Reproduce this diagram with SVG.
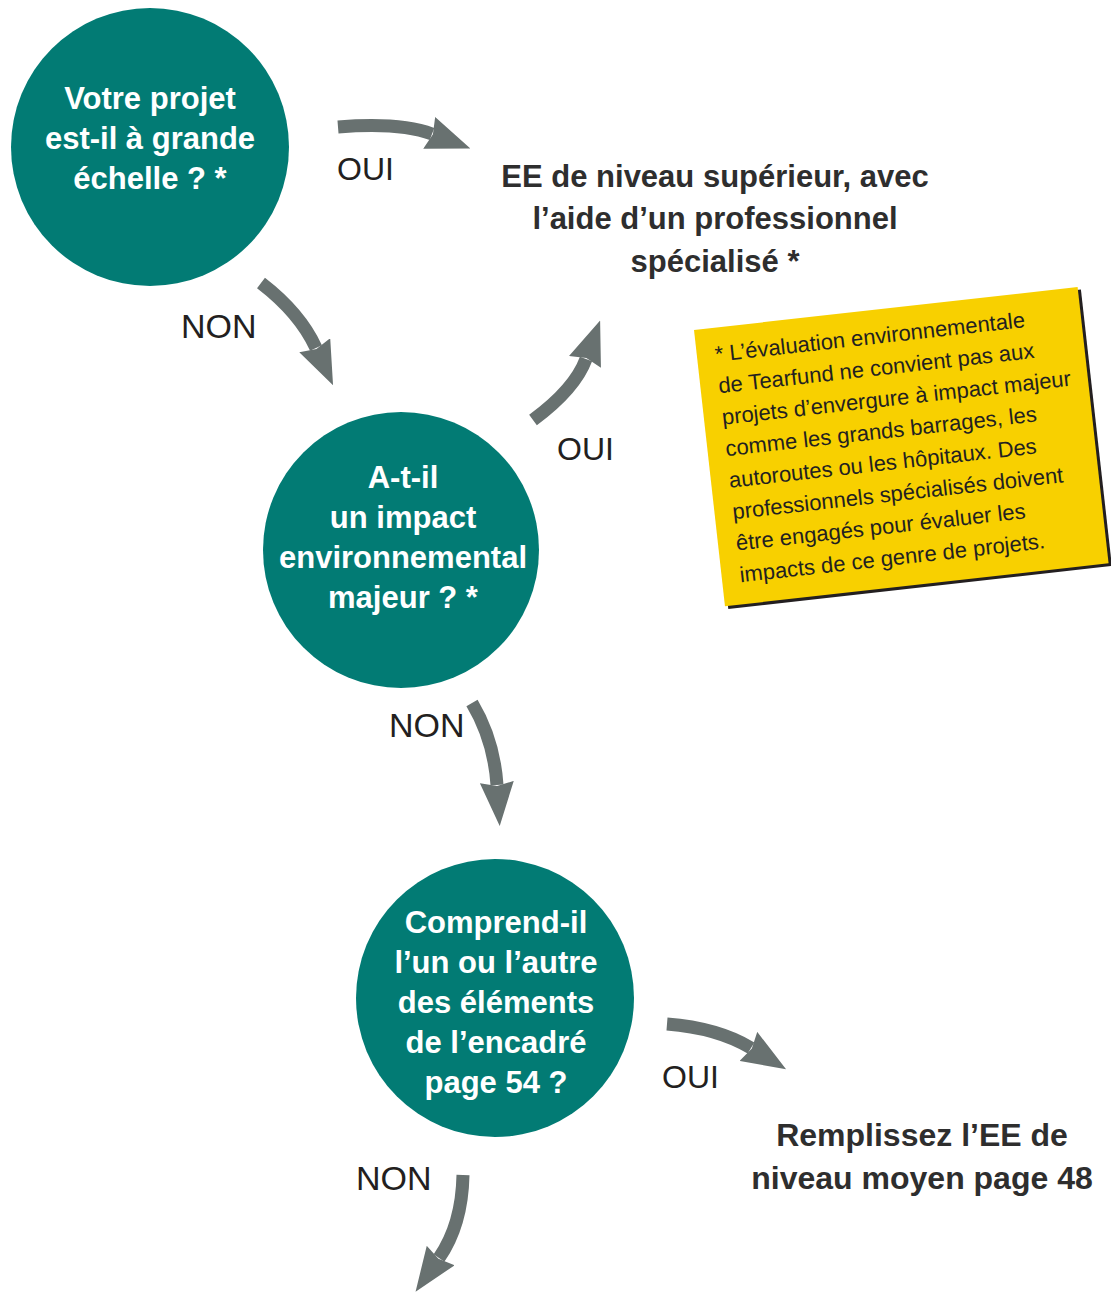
<svg xmlns="http://www.w3.org/2000/svg" width="1111" height="1293" viewBox="0 0 1111 1293">
<style>
.circ{fill:#027b74}
.ct{font-family:"Liberation Sans",Arial,sans-serif;font-weight:bold;font-size:31px;fill:#ffffff;text-anchor:middle}
.lbl{font-family:"Liberation Sans",Arial,sans-serif;font-size:32px;fill:#231f20}
.non{font-size:34px}
.res{font-family:"Liberation Sans",Arial,sans-serif;font-weight:bold;font-size:31px;fill:#2e2e2e;text-anchor:middle}
.note{font-family:"Liberation Sans",Arial,sans-serif;font-size:22px;fill:#231f20}
.arr{fill:none;stroke:#687170;stroke-width:13}
</style>
<defs>
<marker id="ah" markerUnits="userSpaceOnUse" viewBox="0 0 44 34" markerWidth="44" markerHeight="34" refX="3" refY="17" orient="auto">
<path d="M0,0 L44,17 L0,34 L4,17 Z" fill="#687170"/>
</marker>
</defs>
<rect width="1111" height="1293" fill="#ffffff"/>

<g id="connectors">
<path class="arr" d="M338,127 Q400,122 432,134" marker-end="url(#ah)"/>
<path class="arr" d="M261,283 Q300,313 316,348" marker-end="url(#ah)"/>
<path class="arr" d="M533,420 Q575,389 586,359" marker-end="url(#ah)"/>
<path class="arr" d="M472,703 Q494,740 497,785" marker-end="url(#ah)"/>
<path class="arr" d="M667,1024 Q718,1028 751,1048" marker-end="url(#ah)"/>
<path class="arr" d="M463,1175 Q462,1225 439,1258" marker-end="url(#ah)"/>
<text class="lbl" x="337" y="180">OUI</text>
<text class="lbl non" x="181" y="338">NON</text>
<text class="lbl" x="557" y="460">OUI</text>
<text class="lbl non" x="389" y="737">NON</text>
<text class="lbl" x="662" y="1088">OUI</text>
<text class="lbl non" x="356" y="1190">NON</text>
</g>

<g id="q1">
<circle class="circ" cx="150" cy="147" r="139"/>
<text class="ct" x="150" y="109">Votre projet</text>
<text class="ct" x="150" y="149">est-il à grande</text>
<text class="ct" x="150" y="189">échelle ? *</text>
</g>

<g id="q2">
<circle class="circ" cx="401" cy="550" r="138"/>
<text class="ct" x="403" y="488">A-t-il</text>
<text class="ct" x="403" y="528">un impact</text>
<text class="ct" x="403" y="568">environnemental</text>
<text class="ct" x="403" y="608">majeur ? *</text>
</g>

<g id="q3">
<circle class="circ" cx="495" cy="998" r="139"/>
<text class="ct" x="496" y="933">Comprend-il</text>
<text class="ct" x="496" y="973">l’un ou l’autre</text>
<text class="ct" x="496" y="1013">des éléments</text>
<text class="ct" x="496" y="1053">de l’encadré</text>
<text class="ct" x="496" y="1093">page 54 ?</text>
</g>

<g id="result-high">
<text class="res" x="715" y="187">EE de niveau supérieur, avec</text>
<text class="res" x="715" y="229">l’aide d’un professionnel</text>
<text class="res" x="715" y="272">spécialisé *</text>
</g>

<g id="result-medium">
<text class="res" x="922" y="1146" style="font-size:32px">Remplissez l’EE de</text>
<text class="res" x="922" y="1189" style="font-size:32px">niveau moyen page 48</text>
</g>

<g id="note" transform="translate(694,330) rotate(-6.4)">
<rect x="3" y="3" width="386" height="278" fill="#231f20"/>
<rect x="0" y="0" width="386" height="278" fill="#f8d000"/>
<text class="note" x="18" y="34">* L’évaluation environnementale</text>
<text class="note" x="18" y="65.7">de Tearfund ne convient pas aux</text>
<text class="note" x="18" y="97.4">projets d’envergure à impact majeur</text>
<text class="note" x="18" y="129">comme les grands barrages, les</text>
<text class="note" x="18" y="160.8">autoroutes ou les hôpitaux. Des</text>
<text class="note" x="18" y="192.5">professionnels spécialisés doivent</text>
<text class="note" x="18" y="224">être engagés pour évaluer les</text>
<text class="note" x="18" y="256">impacts de ce genre de projets.</text>
</g>
</svg>
